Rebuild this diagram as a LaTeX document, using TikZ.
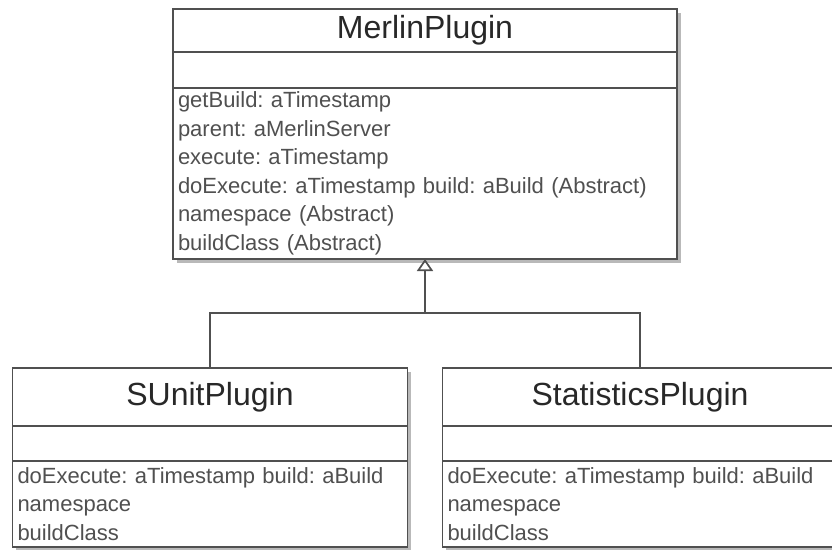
\documentclass[tikz,border=0pt]{standalone}
\usepackage{fontspec}
\setmainfont{Liberation Sans}
\usetikzlibrary{positioning}
\usetikzlibrary{arrows.meta,backgrounds}
\frenchspacing

\definecolor{linegray}{RGB}{80,80,80}
\definecolor{titletext}{RGB}{40,40,40}
\definecolor{opstext}{RGB}{80,80,80}
\definecolor{shadowgray}{RGB}{185,185,185}

\tikzset{
	classname/.style={draw=linegray, line width=1.7pt, fill=white, outer sep=0pt, text=titletext, font=\fontsize{32}{32}\selectfont},
	classattr/.style={draw=linegray, line width=1.7pt, fill=white, outer sep=0pt},
	classops/.style={draw=linegray, line width=1.7pt, fill=white, outer sep=0pt, align=left, inner xsep=5pt, inner ysep=2pt, text=opstext, font=\fontsize{22}{28.5}\selectfont},
	inherit/.style={draw=linegray, line width=1.7pt},
}

\begin{document}
\begin{tikzpicture}[x=1pt,y=-1pt]
		\clip (0,0) rectangle (832,549);
		
		% parent class
		\node[classname, minimum width=504pt, minimum height=43pt] (merlin) at (425,30.5) {MerlinPlugin};
		\node[classattr, minimum width=504pt, minimum height=36pt, below=0pt of merlin] (merlinattr) {};
		\node[classops, text width=494pt, minimum height=171pt, below=0pt of merlinattr] (merlinops) {getBuild: aTimestamp\\parent: aMerlinServer\\execute: aTimestamp\\doExecute: aTimestamp build: aBuild (Abstract)\\namespace (Abstract)\\buildClass (Abstract)};
		
		% subclasses
		\node[classname, minimum width=395pt, minimum height=58pt] (sunit) at (210,397) {SUnitPlugin};
		\node[classattr, minimum width=395pt, minimum height=35pt, below=0pt of sunit] (sunitattr) {};
		\node[classops, text width=385pt, minimum height=86pt, below=0pt of sunitattr] (sunitops) {doExecute: aTimestamp build: aBuild\\namespace\\buildClass};
		
		\node[classname, minimum width=395pt, minimum height=58pt] (stats) at (640,397) {StatisticsPlugin};
		\node[classattr, minimum width=395pt, minimum height=35pt, below=0pt of stats] (statsattr) {};
		\node[classops, text width=385pt, minimum height=86pt, below=0pt of statsattr] (statsops) {doExecute: aTimestamp build: aBuild\\namespace\\buildClass};
		
		% shadows
		\begin{scope}[on background layer]
			\fill[shadowgray] ([shift={(3.5,3.5)}]merlin.north west) rectangle ([shift={(3.5,3.5)}]merlinops.south east);
			\fill[shadowgray] ([shift={(3.5,3.5)}]sunit.north west) rectangle ([shift={(3.5,3.5)}]sunitops.south east);
			\fill[shadowgray] ([shift={(3.5,3.5)}]stats.north west) rectangle ([shift={(3.5,3.5)}]statsops.south east);
		\end{scope}
		
		% generalisation
		\coordinate (split) at (425,313);
		\draw[inherit, -{Triangle[open, width=16pt, length=12pt, line width=1.7pt]}] (split) -- (merlinops.south);
		\draw[inherit] (sunit.north) |- (split) -| (stats.north);
	\end{tikzpicture}
\end{document}
